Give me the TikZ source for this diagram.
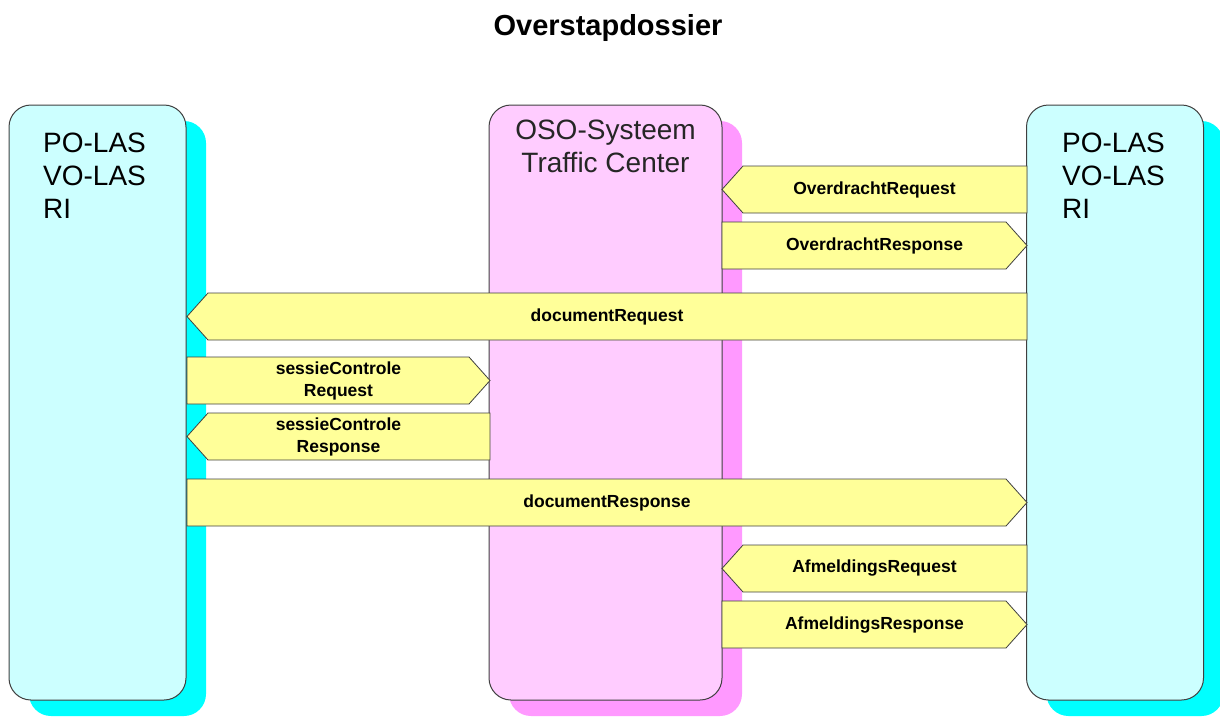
\documentclass[tikz,border=0pt]{standalone}
\usepackage{fontspec}
\setmainfont{Liberation Sans}
\usetikzlibrary{positioning, shadows}
\definecolor{paleblue}{HTML}{CCFFFF}
\definecolor{shadeblue}{HTML}{00FFFF}
\definecolor{palepink}{HTML}{FFCCFF}
\definecolor{shadepink}{HTML}{FF99FF}
\definecolor{msgyellow}{HTML}{FFFF99}
\definecolor{edgegrey}{HTML}{404040}

\tikzset{
  party/.style={draw=edgegrey, line width=1pt, rounded corners=22pt,
    minimum height=595pt, inner sep=0pt},
  las/.style={party, fill=paleblue, minimum width=177pt,
    drop shadow={shadow xshift=20pt, shadow yshift=-16pt, fill=shadeblue, opacity=1}},
  oso/.style={party, fill=palepink, minimum width=233pt,
    drop shadow={shadow xshift=20pt, shadow yshift=-16pt, fill=shadepink, opacity=1}},
  partytext/.style={inner sep=0pt, align=left, font=\fontsize{28}{33}\selectfont},
  msgshape/.style={draw=edgegrey, line width=0.8pt, fill=msgyellow},
  msgtext/.style={inner sep=0pt, align=center, font=\bfseries\fontsize{17.5}{22}\selectfont}
}

\begin{document}
\begin{tikzpicture}[x=1pt, y=-1pt]
  \useasboundingbox (0,0) rectangle (1220,716);

  \node[anchor=base, font=\bfseries\fontsize{29}{34}\selectfont] (title) at (608,35) {Overstapdossier};

  % de drie partijen
  \node[las] (lasleft) at (97.5,402.5) {};
  \node[oso] (osotc) at (605.5,402.5) {};
  \node[las] (lasright) at (1115,402.5) {};

  \node[partytext, anchor=north west] (lasleftname) at (43,133) {PO-LAS\\VO-LAS\\RI};
  \node[partytext, anchor=north, align=center, text=black!85] (osoname) at (605.5,120) {OSO-Systeem\\Traffic Center};
  \node[partytext, anchor=north west] (lasrightname) at (1062,133) {PO-LAS\\VO-LAS\\RI};

  % berichten
  \filldraw[msgshape] (1027,166) -- ++(0,47) -- ++(-284,0) -- ++(-21,-23.5) -- ++(21,-23.5) -- cycle;
  \node[msgtext] (ovreq) at (874.5,189.5) {OverdrachtRequest};

  \filldraw[msgshape] (722,222) -- ++(0,47) -- ++(284,0) -- ++(21,-23.5) -- ++(-21,-23.5) -- cycle;
  \node[msgtext] (ovresp) at (874.5,245.5) {OverdrachtResponse};

  \filldraw[msgshape] (1027,293) -- ++(0,47) -- ++(-819,0) -- ++(-21,-23.5) -- ++(21,-23.5) -- cycle;
  \node[msgtext] (docreq) at (607,316.5) {documentRequest};

  \filldraw[msgshape] (187,357) -- ++(0,47) -- ++(282,0) -- ++(21,-23.5) -- ++(-21,-23.5) -- cycle;
  \node[msgtext] (sesreq) at (338.5,380.5) {sessieControle\\Request};

  \filldraw[msgshape] (490,413) -- ++(0,47) -- ++(-282,0) -- ++(-21,-23.5) -- ++(21,-23.5) -- cycle;
  \node[msgtext] (sesresp) at (338.5,436.5) {sessieControle\\Response};

  \filldraw[msgshape] (187,479) -- ++(0,47) -- ++(819,0) -- ++(21,-23.5) -- ++(-21,-23.5) -- cycle;
  \node[msgtext] (docresp) at (607,502.5) {documentResponse};

  \filldraw[msgshape] (1027,545) -- ++(0,47) -- ++(-284,0) -- ++(-21,-23.5) -- ++(21,-23.5) -- cycle;
  \node[msgtext] (afreq) at (874.5,568.5) {AfmeldingsRequest};

  \filldraw[msgshape] (722,601) -- ++(0,47) -- ++(284,0) -- ++(21,-23.5) -- ++(-21,-23.5) -- cycle;
  \node[msgtext] (afresp) at (874.5,624.5) {AfmeldingsResponse};

\end{tikzpicture}
\end{document}
